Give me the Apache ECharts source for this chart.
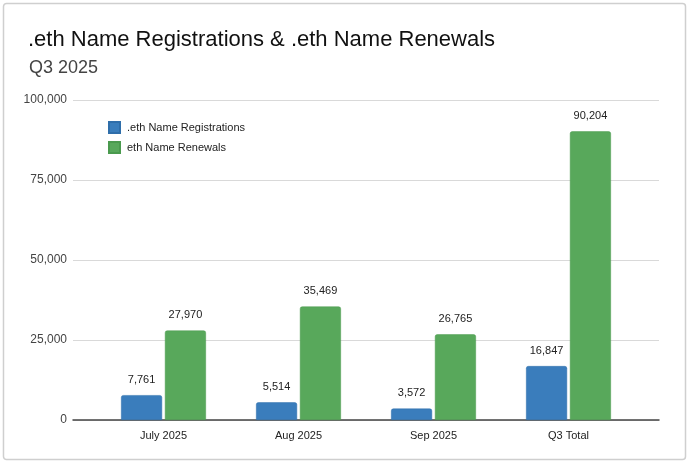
<!DOCTYPE html>
<html><head><meta charset="utf-8">
<script src="https://cdn.jsdelivr.net/npm/echarts@6/dist/echarts.min.js"></script>
<style>html,body{margin:0;padding:0;background:#fff}#c{width:690px;height:463px}</style>
</head><body><div id="c"></div>
<script>
const categories = ['July 2025', 'Aug 2025', 'Sep 2025', 'Q3 Total'];
const registrations = [7761, 5514, 3572, 16847];
const renewals = [27970, 35469, 26765, 90204];
const seriesNames = ['.eth Name Registrations', 'eth Name Renewals'];
const yTicks = [0, 25000, 50000, 75000, 100000];

const font = 'Liberation Sans, Arial, sans-serif';
const chart = echarts.init(document.getElementById('c'));
const fmt = v => v.toLocaleString('en-US');
const labelCfg = {show: true, position: 'top', distance: 10, color: '#222', fontSize: 11, fontFamily: font, formatter: p => fmt(p.value)};
chart.setOption({
  animation: false,
  backgroundColor: '#fff',
  graphic: [{type: 'rect', shape: {x: 3.5, y: 3.5, width: 682, height: 456, r: 3}, style: {fill: 'none', stroke: '#cfcfcf', lineWidth: 1.5}, silent: true}],
  title: [
    {text: '.eth Name Registrations & .eth Name Renewals', left: 23, top: 24, textStyle: {fontFamily: font, fontSize: 22, fontWeight: 'normal', color: '#111'}},
    {text: 'Q3 2025', left: 24, top: 54, textStyle: {fontFamily: font, fontSize: 18, fontWeight: 'normal', color: '#444'}}
  ],
  legend: {
    orient: 'vertical', left: 103, top: 116, itemWidth: 11, itemHeight: 11, itemGap: 7,
    icon: 'rect', data: seriesNames,
    textStyle: {fontFamily: font, fontSize: 11, color: '#222', padding: [0, 0, 0, 2]}
  },
  grid: [
    {left: 73, right: 31, top: 100, bottom: 43},
    {left: 96, right: 54, top: 100, bottom: 43}
  ],
  xAxis: [
    {gridIndex: 0, type: 'category', data: [''], axisLine: {lineStyle: {color: '#444', width: 1.5}}, axisTick: {show: false}, axisLabel: {show: false}},
    {gridIndex: 1, type: 'category', data: categories, axisLine: {show: false}, axisTick: {show: false},
     axisLabel: {fontFamily: font, fontSize: 11, color: '#222', margin: 10}}
  ],
  yAxis: [
    {gridIndex: 0, type: 'value', min: 0, max: 100000, interval: 25000,
     axisLine: {show: false}, axisTick: {show: false},
     axisLabel: {fontFamily: font, fontSize: 12, color: '#444', margin: 6, formatter: v => yTicks.includes(v) ? fmt(v) : ''},
     splitLine: {lineStyle: {color: '#d9d9d9', width: 1}}},
    {gridIndex: 1, type: 'value', min: 0, max: 100000, interval: 25000, show: false, splitLine: {show: false}}
  ],
  series: [
    {name: seriesNames[0], type: 'bar', xAxisIndex: 1, yAxisIndex: 1, data: registrations, barWidth: 41, barGap: '7%',
     itemStyle: {color: '#3a7dbc', borderColor: '#2f6eaa', borderWidth: 0.5, borderRadius: [2, 2, 0, 0]}, label: labelCfg},
    {name: seriesNames[1], type: 'bar', xAxisIndex: 1, yAxisIndex: 1, data: renewals, barWidth: 41,
     itemStyle: {color: '#58a85b', borderColor: '#4a9a4e', borderWidth: 0.5, borderRadius: [2, 2, 0, 0]}, label: labelCfg}
  ]
});
</script></body></html>
